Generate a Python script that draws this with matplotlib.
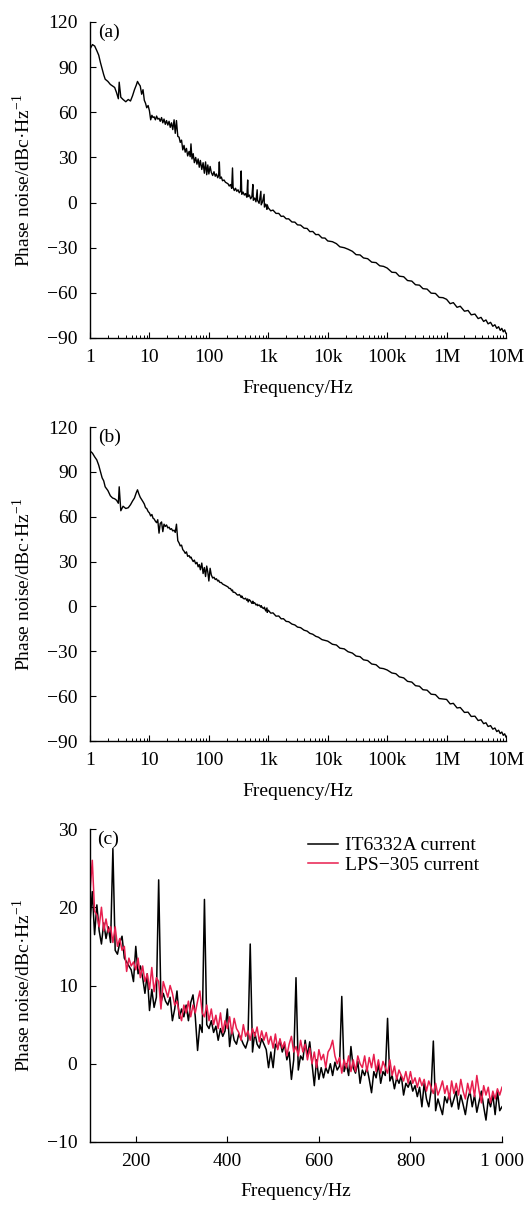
import numpy as np
import matplotlib
matplotlib.use("Agg")
import matplotlib.pyplot as plt

plt.rcParams['font.family'] = ['Liberation Serif', 'DejaVu Serif']
plt.rcParams['mathtext.fontset'] = 'custom'
plt.rcParams['mathtext.rm'] = 'Liberation Serif'
plt.rcParams['font.size'] = 14

# offset frequency grid shared by (a) and (b), Hz
freq_ab = [1, 1.1, 1.2, 1.3, 1.4, 1.5, 1.6, 1.7, 1.8, 2.0, 2.2, 2.4, 2.6, 2.8, 3.0, 3.1, 3.3,
           3.6, 4.0, 4.4, 4.8, 5.2, 5.6, 6.0, 6.3, 6.6, 7.0, 7.4, 7.8, 8.2, 8.6, 9.0, 9.5,
           10, 10.5, 11, 11.5, 12, 12.6, 13.2, 13.8, 14.5, 15.2, 16, 16.8, 17.6, 18.5, 19.4,
           20.4, 21.4, 22.4, 23.5, 24.7, 26, 27.2, 28.5, 30, 31.5, 33, 34.7, 36.4, 38.2, 40,
           42, 44, 46.5, 48.5, 50, 52, 54.5, 57, 60, 63, 66, 69, 72, 76, 80, 84, 88, 92, 96,
           100, 105, 110, 116, 122, 128, 134, 141, 146, 150, 154, 162, 170, 180, 190, 200,
           210, 220, 231, 242, 250, 256, 268, 281, 295, 310, 325, 340, 350, 358, 376, 395,
           415, 436, 450, 458, 481, 505, 530, 550, 560, 590, 620, 650, 660, 700, 750, 760,
           800, 850, 860, 905, 950, 960,
           1000, 1100, 1200, 1350, 1500, 1650, 1800, 2000, 2200, 2500, 2800, 3100, 3500,
           4000, 4500, 5000, 5600, 6300, 7000, 8000, 9000,
           1e4, 1.2e4, 1.4e4, 1.6e4, 1.9e4, 2.2e4, 2.6e4, 3e4, 3.5e4, 4e4, 4.7e4, 5.5e4,
           6.5e4, 7.5e4, 8.7e4,
           1e5, 1.2e5, 1.4e5, 1.6e5, 1.9e5, 2.2e5, 2.6e5, 3e5, 3.5e5, 4e5, 4.7e5, 5.5e5,
           6.5e5, 7.5e5, 8.7e5,
           1e6, 1.15e6, 1.3e6, 1.5e6, 1.7e6, 2e6, 2.3e6, 2.6e6, 3e6, 3.4e6, 3.8e6, 4.2e6,
           4.6e6, 5e6, 5.5e6, 6e6, 6.5e6, 7e6, 7.5e6, 8e6, 8.5e6, 9e6, 9.5e6, 1e7]

# phase noise (a), dBc/Hz
pn_a = [102, 105, 104, 101, 98, 93, 89, 85, 82, 80.5, 78.5, 77.5, 76.5, 73, 69, 80, 70,
        68.5, 67, 68.5, 67.5, 71, 75, 78, 80.5, 79, 77.5, 72, 75, 68, 66, 63, 64.5,
        61, 55, 58, 56.5, 57, 55, 57.5, 55.5, 56, 54, 56.5, 53, 55.5, 52, 54.5,
        51.5, 54, 50, 53, 48.5, 55, 46, 54.5, 44, 43.5, 40, 41.5, 35, 38, 33.5,
        36, 31, 34, 30.5, 39, 29, 32.5, 26.5, 30, 25.5, 29, 23.5, 28, 22, 26.5, 19.5, 27, 18.5, 25,
        19, 24, 20, 18, 20.5, 17.5, 19, 16.5, 18, 27, 16, 17, 14.5, 15, 13.5, 13,
        12.5, 11, 12, 9.5, 23, 10, 8, 9.5, 7.5, 8.5, 6.5, 7.5, 21, 5.5, 7, 5,
        6, 3.5, 15, 4, 5, 2.5, 4, 12, 1.5, 3, 0.5, 8.5, 1.5, -0.5, 7.5, -1.5,
        0.5, 5.5, -3, -1, -4.5, -1.5,
        -3.5, -5.5, -5, -7.2, -7.2, -9.2, -9, -10.8, -10.8, -12.9, -13, -14.8, -15,
        -17, -17.2, -19.3, -19.2, -21.3, -21.2, -23.5, -23.6,
        -25.5, -26, -27.3, -29.4, -30, -31, -32.4, -34.6, -34.8, -36.8, -37.3, -39.6,
        -39.9, -42, -42.4,
        -43.5, -46.3, -46.5, -48.9, -49.3, -51.8, -52.2, -54.6, -54.9, -57.2, -57.5, -60.2,
        -60.4, -63, -63.2,
        -64.3, -67.2, -66.5, -69.6, -68.9, -72.2, -71.7, -74.6, -74.1, -77.1, -76.3, -79,
        -78, -80.6, -79.6, -82.2, -81.2, -83.6, -82.5, -84.9, -83.6, -85.9, -84.6, -86.9]

# phase noise (b), dBc/Hz
pn_b = [104, 102.5, 100, 98, 94.5, 90, 86, 84, 80, 77.5, 74, 72.5, 72, 71, 69, 80, 64,
        67, 65.5, 66, 68, 70.5, 72.5, 76, 78, 75.5, 73, 71.5, 70, 68.5, 66, 65.5, 63.5,
        62.5, 60.5, 61.5, 59, 58.5, 57, 56, 58, 49, 55.5, 56.5, 50, 55, 53.5, 54.5,
        52.5, 53, 51.5, 52, 50.5, 51, 49.5, 55, 44, 42.5, 40.5, 41, 38, 37, 35.5,
        36.5, 33.5, 34, 32.5, 33, 31.5, 30, 31, 28.5, 29.5, 26.5, 28, 24.5, 29, 22, 26, 20, 27, 23,
        17, 25.5, 21, 19, 19.5, 18, 18.5, 17, 17.5, 16.5, 16, 16, 15, 14.5, 14, 13.5,
        13, 12, 12, 10.5, 11, 9.5, 9.5, 9, 8, 7.5, 8, 7, 6, 7, 5.5, 5,
        5.5, 4, 5, 3, 4.5, 3.5, 2, 3.5, 2, 2.5, 1, 1.5, 0.5, 1, -0.5, 0.5,
        -1, -1.5, -0.5, -3, -1, -4,
        -2.5, -4.5, -4.3, -6.5, -6.4, -8.3, -8.2, -10, -10.2, -11.8, -12.4, -13.8, -14.2,
        -15.9, -16.5, -18, -18.6, -20, -20.6, -22.2, -22.7,
        -23.2, -25.3, -25.8, -27.9, -28.4, -30.3, -31.2, -33.2, -33.6, -35.7, -36.2, -38.5,
        -39, -41.2, -41.6,
        -42.5, -44.5, -45, -47.1, -47.8, -50.1, -50.6, -53, -53.4, -55.7, -56, -58.7,
        -59, -61.6, -61.9,
        -62.2, -65.2, -64.8, -67.9, -67.6, -70.9, -70.7, -73.6, -73.4, -76.3, -75.8, -78.4,
        -77.8, -80.3, -79.7, -82.1, -81.3, -83.7, -82.8, -85, -84, -86.2, -85.2, -87.3]

decade_ticks = [1, 10, 100, 1e3, 1e4, 1e5, 1e6, 1e7]
decade_labels = ['1', '10', '100', '1k', '10k', '100k', '1M', '10M']

# (c) 100 Hz - 1 kHz
freq_c = [100, 105, 110, 115, 120, 125, 130, 135, 140, 145,
          150, 155, 160, 165, 170, 175, 180, 185, 190, 195,
          200, 205, 210, 215, 220, 225, 230, 235, 240, 245,
          250, 255, 260, 265, 270, 275, 280, 285, 290, 295,
          300, 305, 310, 315, 320, 325, 330, 335, 340, 345,
          350, 355, 360, 365, 370, 375, 380, 385, 390, 395,
          400, 405, 410, 415, 420, 425, 430, 435, 440, 445,
          450, 455, 460, 465, 470, 475, 480, 485, 490, 495,
          500, 505, 510, 515, 520, 525, 530, 535, 540, 545,
          550, 555, 560, 565, 570, 575, 580, 585, 590, 595,
          600, 605, 610, 615, 620, 625, 630, 635, 640, 645,
          650, 655, 660, 665, 670, 675, 680, 685, 690, 695,
          700, 705, 710, 715, 720, 725, 730, 735, 740, 745,
          750, 755, 760, 765, 770, 775, 780, 785, 790, 795,
          800, 805, 810, 815, 820, 825, 830, 835, 840, 845,
          850, 855, 860, 865, 870, 875, 880, 885, 890, 895,
          900, 905, 910, 915, 920, 925, 930, 935, 940, 945,
          950, 955, 960, 965, 970, 975, 980, 985, 990, 995,
          1000]

pn_it6332a = [18, 22, 16.5, 20.3, 17, 15.3, 18, 16, 17.5, 15.5,
              27.5, 14.5, 14, 15.5, 16.3, 13.5, 13, 12.5, 12, 10.5,
              15, 11.5, 12.5, 11, 9, 11.5, 6.8, 9.5, 7.2, 8.5,
              23.5, 7.8, 9, 8, 7.5, 8.5, 5.5, 7, 9.3, 5.8,
              7, 6, 7.5, 5.5, 7.8, 8.8, 6, 1.7, 5, 4,
              21, 5, 4.5, 5.5, 4, 4.8, 3, 4.5, 3.5, 4.2,
              7, 2.2, 4.5, 3, 2.5, 3.8, 3.2, 2.5, 2, 3,
              15.3, 1.5, 4, 2.5, 2, 3.2, 2.5, 1.8, -0.5, 1.5,
              -0.5, 2.5, 2, 3, 1.5, 2.5, 0.5, 1.5, -2, 0.5,
              11, -0.8, 1, 0.5, 3, 1, 2.8, 0, -2.8, 0.5,
              -2, -0.5, -1.8, -0.5, -1.2, 0, -1.5, 0.2, -0.8, -0.3,
              8.6, -1, 0, -1.5, 2.2, -0.5, -1.2, 0.3, -2.5, -0.8,
              -1.5, -0.5, -2, -3.7, -1, -1.8, 0, -2.5, -1, -1.5,
              5.8, -2.2, -1.5, -3.2, -1.8, -2.5, -1.5, -4, -2.5, -3,
              -2.2, -3.5, -2.8, -4.2, -3, -5.5, -2.5, -4.5, -5.5, -3.5,
              2.9, -6, -4.5, -5.5, -6.5, -4.2, -5, -3.8, -5.5, -4.5,
              -3.5, -5.8, -4, -5.2, -6.5, -4.5, -3.5, -5.5, -4, -6.2,
              -4.8, -3.5, -5.5, -7.2, -4.5, -5.5, -4, -6.5, -3.5, -6,
              -5.5]

pn_lps305 = [22, 26, 19.5, 19, 17.5, 20, 17, 18.5, 16.8, 17.5,
             15.5, 17.5, 15, 16, 14.5, 15, 11.8, 13.5, 12.5, 13,
             12, 13.5, 11, 12.5, 10.5, 11.5, 9.5, 12.3, 9.2, 11,
             10.5, 7, 10.5, 9.5, 8.5, 10, 9, 7.5, 8, 6.5,
             5.5, 7.5, 6.5, 8, 6, 7.5, 6.5, 8, 9.3, 6.5,
             6, 7.5, 5.5, 7, 5, 6.2, 4.5, 6.5, 4, 5.5,
             4.5, 6, 3.8, 5.8, 4.5, 4, 3, 5, 3.5, 4.2,
             3, 4.5, 3.5, 4.7, 2.8, 4.2, 3, 4, 2.5, 3.5,
             2, 3.8, 1.8, 3.2, 2, 2.8, 1, 2.5, 3.5, 1.5,
             2.2, 1, 3, 1.5, 2.5, 0.5, 2, 0, 1.5, -0.5,
             1.8, 0.5, 1.2, -0.5, 1.5, 2, 3, 1, 0, 0.8,
             -1.2, 0.5, -0.5, 1, -1, 0.5, -1, 1, 0, -0.5,
             1, -1, 0.8, -0.5, 1.2, -1, 0.5, -1.2, 0.3, -0.5,
             -1.2, 0.5, -1.5, -0.3, -2, -0.8, -1.5, -2.2, -1, -2.5,
             -1, -2.5, -1.8, -3, -1.8, -2.8, -2, -3.5, -2.2, -3,
             -3.8, -2.5, -4, -3.2, -2.2, -3.8, -2.8, -4.5, -2.2, -3.8,
             -2.5, -4, -2, -3.5, -4.5, -2.5, -3.8, -2.2, -4.2, -1.5,
             -3.5, -5, -2.8, -4, -3, -5, -3.5, -4.5, -3.2, -4,
             -3]

c_ticks = [200, 400, 600, 800, 1000]
c_labels = ['200', '400', '600', '800', '1 000']

ylabel = 'Phase noise/dBc·Hz$^{-1}$'
red = '#e81e4e'

fig = plt.figure(figsize=(5.3, 12.06), dpi=100)
W, H = 530, 1206


def px_axes(left, right, top, bottom):
    return fig.add_axes([left / W, 1 - bottom / H, (right - left) / W, (bottom - top) / H])


def style(ax):
    for s in ['top', 'right']:
        ax.spines[s].set_visible(False)
    for s in ['left', 'bottom']:
        ax.spines[s].set_linewidth(1.0)
    ax.tick_params(which='major', direction='in', length=4, width=0.8, labelsize=14)
    ax.tick_params(which='minor', direction='in', length=2.2, width=0.7)
    ax.tick_params(axis='x', which='major', pad=8)
    ax.tick_params(axis='y', which='major', pad=9)


panels = [(pn_a, '(a)', 22, 338), (pn_b, '(b)', 427, 741)]
for values, tag, top, bottom in panels:
    ax = px_axes(90, 506, top, bottom)
    ax.plot(freq_ab, values, color='black', lw=1.0)
    ax.set_xscale('log')
    ax.set_xlim(1, 1e7)
    ax.set_ylim(-90, 120)
    ax.set_yticks(np.arange(-90, 121, 30))
    ax.set_xticks(decade_ticks, decade_labels)
    ax.xaxis.set_minor_locator(matplotlib.ticker.LogLocator(base=10, subs=np.arange(2, 10), numticks=20))
    ax.xaxis.set_minor_formatter(matplotlib.ticker.NullFormatter())
    style(ax)
    ax.set_xlabel('Frequency/Hz', fontsize=14)
    ax.xaxis.set_label_coords(0.5, -0.133)
    ax.set_ylabel(ylabel, fontsize=14)
    ax.yaxis.set_label_coords(-0.135, 0.5)
    ax.text(0.02, 0.995, tag, transform=ax.transAxes, ha='left', va='top', fontsize=14)

axc = px_axes(90, 502, 829, 1142)
axc.plot(freq_c, pn_it6332a, color='black', lw=1.1, label='IT6332A current')
axc.plot(freq_c, pn_lps305, color=red, lw=1.1, label='LPS\u2212305 current')
axc.set_xlim(100, 1000)
axc.set_ylim(-10, 30)
axc.set_yticks([-10, 0, 10, 20, 30])
axc.set_xticks(c_ticks, c_labels)
style(axc)
axc.set_xlabel('Frequency/Hz', fontsize=14)
axc.xaxis.set_label_coords(0.5, -0.13)
axc.set_ylabel(ylabel, fontsize=14)
axc.yaxis.set_label_coords(-0.135, 0.5)
axc.text(0.018, 0.995, '(c)', transform=axc.transAxes, ha='left', va='top', fontsize=14)
axc.legend(loc='upper left', bbox_to_anchor=(0.53, 0.975), frameon=False, fontsize=14,
           handlelength=1.5, handletextpad=0.4, labelspacing=0.1, borderpad=0, borderaxespad=0)

fig.savefig('out.png', dpi=100)
